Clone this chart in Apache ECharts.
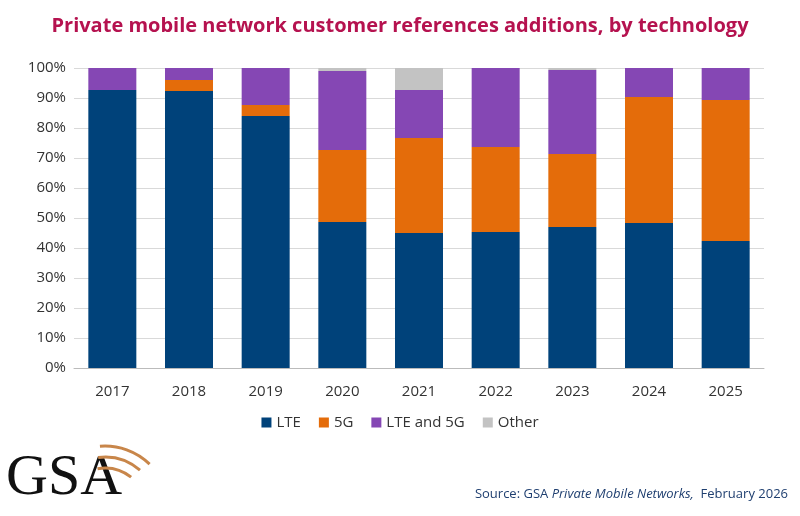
<!DOCTYPE html>
<html><head><meta charset="utf-8">
<script src="https://cdn.jsdelivr.net/npm/echarts@6/dist/echarts.min.js"></script>
<style>body{margin:0}#c{width:800px;height:516px}</style></head>
<body><div id="c"></div>
<script>
var years = ['2017','2018','2019','2020','2021','2022','2023','2024','2025'];
var lte = [92.7, 92.3, 84.0, 48.7, 45.0, 45.3, 47.0, 48.3, 42.3];
var fiveG = [0, 3.7, 3.7, 24.0, 31.7, 28.4, 24.3, 42.0, 47.0];
var lte5g = [7.3, 4.0, 12.3, 26.3, 16.0, 26.3, 28.0, 9.7, 10.7];
var other = [0, 0, 0, 1.0, 7.3, 0, 0.7, 0, 0];

var chart = echarts.init(document.getElementById('c'));
function s(name, data, color) {
    return { name: name, type: 'bar', stack: 'a', data: data, barWidth: 48, itemStyle: { color: color } };
}
chart.setOption({
    animation: false,
    backgroundColor: '#fff',
    title: {
        text: 'Private mobile network customer references additions, by technology',
        left: 'center', top: 11,
        textStyle: { color: '#b5124f', fontSize: 20, fontWeight: 'bold', fontFamily: 'Open Sans' }
    },
    legend: {
        data: ['LTE', '5G', 'LTE and 5G', 'Other'],
        top: 410, left: 'center', icon: 'rect', itemWidth: 10, itemHeight: 10, itemGap: 18,
        textStyle: { fontSize: 15, color: '#333', fontFamily: 'Open Sans' }
    },
    grid: { left: 74, right: 36, top: 68, bottom: 148 },
    xAxis: {
        type: 'category', data: years,
        axisLine: { lineStyle: { color: '#bbb' } }, axisTick: { show: false },
        axisLabel: { fontSize: 15, color: '#333', margin: 16, fontFamily: 'Open Sans' }
    },
    yAxis: {
        type: 'value', min: 0, max: 100, interval: 10,
        axisLabel: { formatter: '{value}%', fontSize: 15, color: '#333', fontFamily: 'Open Sans' },
        splitLine: { lineStyle: { color: '#d9d9d9' } }
    },
    series: [
        s('LTE', lte, '#00427a'),
        s('5G', fiveG, '#e46c0a'),
        s('LTE and 5G', lte5g, '#8547b4'),
        s('Other', other, '#c3c3c3')
    ],
    graphic: [
        { type: 'text', left: 6, top: 450, style: { text: 'GSA', font: '58px "Liberation Serif"', fill: '#111' } },
        { type: 'arc', shape: { cx: 105, cy: 510, r: 42, startAngle: -1.75, endAngle: -0.9 }, style: { stroke: '#c8864a', lineWidth: 3, fill: null } },
        { type: 'arc', shape: { cx: 105, cy: 510, r: 53, startAngle: -1.7, endAngle: -0.85 }, style: { stroke: '#c8864a', lineWidth: 3, fill: null } },
        { type: 'arc', shape: { cx: 105, cy: 510, r: 64, startAngle: -1.65, endAngle: -0.8 }, style: { stroke: '#c8864a', lineWidth: 3, fill: null } },
        {
            type: 'text', right: 12, top: 488,
            style: {
                text: '{n|Source: GSA }{i|Private Mobile Networks,}{n|  February 2026}',
                rich: {
                    n: { fontSize: 13, fill: '#1f3f70', fontFamily: 'Open Sans' },
                    i: { fontSize: 13, fill: '#1f3f70', fontStyle: 'italic', fontFamily: 'Open Sans' }
                }
            }
        }
    ]
});
</script></body></html>
